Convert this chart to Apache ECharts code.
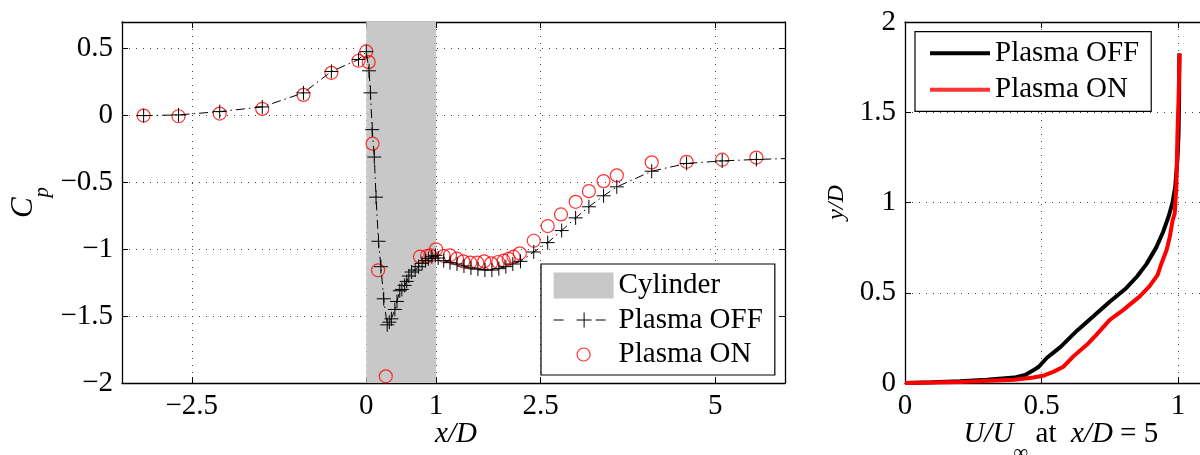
<!DOCTYPE html>
<html><head><meta charset="utf-8">
<script src="https://cdn.jsdelivr.net/npm/echarts@6/dist/echarts.min.js"></script>
<style>html,body{margin:0;padding:0;background:#fff}#c{width:1200px;height:455px}</style>
</head><body><div id="c"></div>
<script>
// ---- data: left panel (Cp along x/D) ----
const cpXTicks = [-2.5, 0, 1, 2.5, 5];
const cpYTicks = [-2, -1.5, -1, -0.5, 0, 0.5];
const cylinderRange = [0, 1];
const offX  = [-3.19,-2.69,-2.10,-1.49,-0.90,-0.50,-0.11,0.00,0.04,0.06,0.085,0.115,0.14,0.175,0.21,0.25,0.30,0.33,0.36,0.41,0.44,0.48,0.51,0.55,0.58,0.61,0.65,0.70,0.75,0.80,0.85,0.89,0.94,0.99,1.03,1.11,1.20,1.30,1.40,1.50,1.60,1.70,1.80,1.90,2.00,2.10,2.21,2.40,2.60,2.80,3.00,3.19,3.40,3.59,4.09,4.59,5.10,5.59,6.10];
const offCp = [0.00,0.005,0.03,0.065,0.17,0.33,0.42,0.478,0.335,0.17,-0.105,-0.31,-0.61,-0.94,-1.13,-1.37,-1.565,-1.545,-1.52,-1.45,-1.39,-1.31,-1.30,-1.27,-1.24,-1.20,-1.17,-1.155,-1.13,-1.105,-1.085,-1.07,-1.055,-1.045,-1.065,-1.085,-1.10,-1.11,-1.125,-1.14,-1.148,-1.155,-1.155,-1.145,-1.13,-1.11,-1.09,-1.02,-0.95,-0.86,-0.765,-0.682,-0.60,-0.533,-0.416,-0.358,-0.339,-0.328,-0.32];
const onX  = [-3.19,-2.69,-2.10,-1.49,-0.90,-0.50,-0.11,0.00,0.035,0.09,0.17,0.28,0.77,0.87,0.92,1.00,1.11,1.20,1.30,1.39,1.49,1.59,1.69,1.79,1.89,1.97,2.04,2.11,2.20,2.40,2.60,2.79,3.00,3.19,3.40,3.59,4.09,4.59,5.10,5.59];
const onCp = [0.00,-0.005,0.015,0.05,0.155,0.32,0.41,0.48,0.40,-0.21,-1.157,-1.95,-1.055,-1.05,-1.045,-1.00,-1.05,-1.045,-1.07,-1.09,-1.10,-1.10,-1.09,-1.105,-1.095,-1.085,-1.072,-1.055,-1.03,-0.936,-0.826,-0.739,-0.645,-0.565,-0.49,-0.447,-0.35,-0.346,-0.33,-0.314];
// ---- data: right panel (velocity profile at x/D = 5) ----
const uTicks = [0, 0.5, 1];
const yTicks = [0, 0.5, 1, 1.5, 2];
const uOff = [0,0.1,0.2,0.3,0.4,0.44,0.47,0.49,0.52,0.57,0.63,0.69,0.75,0.81,0.85,0.885,0.92,0.945,0.965,0.98,0.99,0.998,1.002,1.004,1.005];
const yOff = [0,0.004,0.01,0.018,0.03,0.045,0.07,0.09,0.14,0.20,0.29,0.37,0.45,0.525,0.59,0.66,0.75,0.835,0.92,1.0,1.09,1.24,1.38,1.57,1.826];
const uOn = [0,0.2,0.4,0.47,0.51,0.545,0.58,0.615,0.665,0.70,0.75,0.80,0.86,0.895,0.925,0.94,0.958,0.97,0.98,0.988,0.994,0.998,1.002,1.006];
const yOn = [0,0.006,0.018,0.03,0.042,0.063,0.09,0.145,0.21,0.265,0.35,0.405,0.48,0.535,0.598,0.665,0.735,0.81,0.9,0.94,1.09,1.38,1.57,1.826];

const zip = (a, b) => a.map((v, i) => [v, b[i]]);
const FONT = "'Liberation Serif', 'Times New Roman', serif";
const fmt = v => String(v).replace('-', '\u2212');
const dotted = { show: true, lineStyle: { color: '#444', width: 1, type: [1, 6] } };
const lineBlack = { show: true, onZero: false, lineStyle: { color: '#000', width: 1.3 } };
const tick = vals => ({ show: true, inside: true, length: 6, customValues: vals, lineStyle: { color: '#000', width: 1 } });
const lab = vals => ({ show: true, customValues: vals, formatter: fmt, fontFamily: FONT, fontSize: 29, color: '#000', margin: 9 });
const noLab = { show: false };

const plusPath = 'path://M0,-1L0,1M-1,0L1,0';
const legOffIcon = 'path://M0,0M60,26M0,13L10,13M23,13L38,13M30.5,5.5L30.5,20.5M42,13L52,13';
const legOnIcon = 'path://M0,0M60,26M23.5,13A6.5,6.5,0,1,1,36.5,13A6.5,6.5,0,1,1,23.5,13Z';
const legLineIcon = 'path://M0,0M60,26M0,13L60,13';

const chart = echarts.init(document.getElementById('c'), null, { renderer: 'canvas' });
chart.setOption({
  animation: false,
  backgroundColor: '#fff',
  grid: [
    { left: 122, top: 22, width: 663, height: 361, outerBoundsMode: 'none' },
    { left: 905, top: 22, width: 327.6, height: 361, outerBoundsMode: 'none' }
  ],
  xAxis: [
    { gridIndex: 0, type: 'value', min: -3.5, max: 6, position: 'bottom',
      axisLine: lineBlack, axisTick: tick(cpXTicks), axisLabel: lab(cpXTicks), splitLine: dotted,
      name: 'x/D', nameLocation: 'middle', nameGap: 37, nameMoveOverlap: false,
      nameTextStyle: { fontFamily: FONT, fontSize: 29, fontStyle: 'italic', color: '#000', padding: [0, 0, 0, 5] } },
    { gridIndex: 0, type: 'value', min: -3.5, max: 6, position: 'top',
      axisLine: lineBlack, axisTick: tick(cpXTicks), axisLabel: noLab, splitLine: { show: false } },
    { gridIndex: 1, type: 'value', min: 0, max: 1.2, position: 'bottom',
      axisLine: lineBlack, axisTick: tick(uTicks), axisLabel: lab(uTicks), splitLine: dotted,
      name: '{i|U/U}{s|\u221e}{n| at  }{i|x/D}{n| = 5}', nameLocation: 'middle', nameGap: 37, nameMoveOverlap: false,
      nameTextStyle: { padding: [0, 16, 0, 0], rich: {
        i: { fontFamily: FONT, fontSize: 29, fontStyle: 'italic', color: '#000', verticalAlign: 'top', lineHeight: 29 },
        n: { fontFamily: FONT, fontSize: 29, color: '#000', verticalAlign: 'top', lineHeight: 29 },
        s: { fontFamily: FONT, fontSize: 21, color: '#000', verticalAlign: 'bottom', lineHeight: 44 }
      } } },
    { gridIndex: 1, type: 'value', min: 0, max: 1.2, position: 'top',
      axisLine: lineBlack, axisTick: tick(uTicks), axisLabel: noLab, splitLine: { show: false } }
  ],
  yAxis: [
    { gridIndex: 0, type: 'value', min: -2, max: 0.7, position: 'left',
      axisLine: lineBlack, axisTick: tick(cpYTicks), axisLabel: lab(cpYTicks), splitLine: dotted,
      name: '{c|C}{p|p}', nameLocation: 'middle', nameGap: 69, nameMoveOverlap: false,
      nameTextStyle: { rich: {
        c: { fontFamily: FONT, fontSize: 31, fontStyle: 'italic', color: '#000', verticalAlign: 'top', lineHeight: 31 },
        p: { fontFamily: FONT, fontSize: 21, fontStyle: 'italic', color: '#000', verticalAlign: 'bottom', lineHeight: 45 }
      } } },
    { gridIndex: 0, type: 'value', min: -2, max: 0.7, position: 'right',
      axisLine: lineBlack, axisTick: tick(cpYTicks), axisLabel: noLab, splitLine: { show: false } },
    { gridIndex: 1, type: 'value', min: 0, max: 2, position: 'left',
      axisLine: lineBlack, axisTick: tick(yTicks), axisLabel: lab(yTicks), splitLine: dotted,
      name: 'y/D', nameLocation: 'middle', nameGap: 56, nameMoveOverlap: false,
      nameTextStyle: { fontFamily: FONT, fontSize: 24, fontStyle: 'italic', color: '#000' } }
  ],
  legend: [
    { orient: 'vertical', left: 541, top: 264, itemWidth: 60, itemHeight: 26, itemGap: 5.5,
      padding: [7, 12, 6, 12], borderColor: '#000', borderWidth: 1.2, backgroundColor: '#fff',
      selectedMode: false, textStyle: { fontFamily: FONT, fontSize: 29, color: '#000', lineHeight: 28 },
      data: [
        { name: 'Cylinder', icon: 'rect', itemStyle: { color: '#c8c8c8', borderWidth: 0 } },
        { name: 'Plasma OFF', icon: legOffIcon, itemStyle: { color: 'rgba(0,0,0,0)', borderColor: '#000', borderWidth: 1 } },
        { name: 'Plasma ON', icon: legOnIcon, itemStyle: { color: 'rgba(0,0,0,0)', borderColor: '#ff0000', borderWidth: 1.2 } }
      ] },
    { orient: 'vertical', left: 915, top: 31.7, itemWidth: 60, itemHeight: 26, itemGap: 6.4,
      padding: [6.6, 12, 6.6, 13], borderColor: '#000', borderWidth: 1.2, backgroundColor: '#fff',
      selectedMode: false, textStyle: { fontFamily: FONT, fontSize: 29, color: '#000', lineHeight: 28 },
      data: [
        { name: 'Plasma OFF', icon: legLineIcon, itemStyle: { color: 'rgba(0,0,0,0)', borderColor: '#000', borderWidth: 4 } },
        { name: 'Plasma ON', icon: legLineIcon, itemStyle: { color: 'rgba(0,0,0,0)', borderColor: '#ff0000', borderWidth: 4 } }
      ] }
  ],
  series: [
    { name: 'Cylinder', type: 'line', xAxisIndex: 0, yAxisIndex: 0, data: [], color: '#c8c8c8',
      markArea: { silent: true, itemStyle: { color: '#c8c8c8' },
        data: [[{ xAxis: cylinderRange[0] }, { xAxis: cylinderRange[1] }]] } },
    { name: 'Plasma OFF', type: 'line', xAxisIndex: 0, yAxisIndex: 0, data: zip(offX, offCp),
      symbol: plusPath, symbolSize: 14, showAllSymbol: true, clip: true,
      lineStyle: { color: '#000', width: 1, type: [9, 4, 1.5, 4] },
      itemStyle: { color: 'rgba(0,0,0,0)', borderColor: '#000', borderWidth: 1 } },
    { name: 'Plasma ON', type: 'scatter', xAxisIndex: 0, yAxisIndex: 0, data: zip(onX, onCp),
      symbol: 'circle', symbolSize: 13, clip: true,
      itemStyle: { color: 'rgba(0,0,0,0)', borderColor: '#ff0000', borderWidth: 1.2 } },
    { name: 'Plasma OFF', type: 'line', xAxisIndex: 2, yAxisIndex: 2, data: zip(uOff, yOff),
      symbol: 'none', lineStyle: { color: '#000', width: 4 }, color: '#000' },
    { name: 'Plasma ON', type: 'line', xAxisIndex: 2, yAxisIndex: 2, data: zip(uOn, yOn),
      symbol: 'none', lineStyle: { color: '#ff0000', width: 4 }, color: '#ff0000' }
  ]
});
</script></body></html>
